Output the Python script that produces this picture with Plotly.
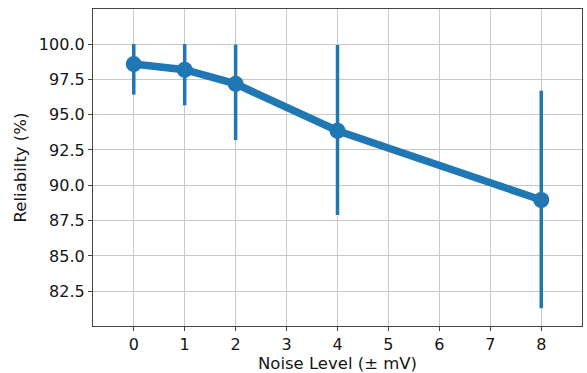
import plotly.graph_objects as go

noise_levels = [0, 1, 2, 4, 8]
reliability = [98.58, 98.18, 97.18, 93.86, 88.96]
ci_upper = [100.0, 100.0, 99.95, 99.93, 96.7]
ci_lower = [96.42, 95.66, 93.2, 87.9, 81.3]

x_ticks = [0, 1, 2, 3, 4, 5, 6, 7, 8]
y_ticks = [82.5, 85.0, 87.5, 90.0, 92.5, 95.0, 97.5, 100.0]

color = "#1f77b4"
err_plus = [u - v for u, v in zip(ci_upper, reliability)]
err_minus = [v - l for v, l in zip(reliability, ci_lower)]

fig = go.Figure()
fig.add_trace(go.Scatter(
    x=noise_levels, y=reliability, mode="lines+markers",
    line=dict(color=color, width=7.5),
    marker=dict(color=color, size=16),
    error_y=dict(type="data", symmetric=False, array=err_plus, arrayminus=err_minus,
                 color=color, thickness=3.5, width=0),
    showlegend=False,
))

axis_common = dict(
    showline=True, mirror=True, linecolor="#444444", linewidth=1.3,
    showgrid=True, gridcolor="#c8c8c8", gridwidth=1,
    ticks="outside", ticklen=4, tickcolor="#444444", tickwidth=1,
    zeroline=False, automargin=False,
    tickfont=dict(family="DejaVu Sans", size=16, color="#151515"),
)

fig.update_layout(
    width=587, height=373,
    margin=dict(l=93, r=5, t=9, b=47),
    paper_bgcolor="white", plot_bgcolor="white",
    font=dict(family="DejaVu Sans", size=16, color="#151515"),
    xaxis=dict(range=[-0.8, 8.8], tickvals=x_ticks,
               title=dict(text="Noise Level (± mV)", standoff=2, font=dict(size=16.5)),
               **axis_common),
    yaxis=dict(range=[80.04, 102.48], tickvals=y_ticks, tickformat=".1f",
               title=dict(text="Reliabilty (%)", standoff=8, font=dict(size=16.5)),
               **axis_common),
)

fig.write_html(
    "out.html",
    config={"displayModeBar": False},
    post_script="document.body.style.margin='0';document.body.style.overflow='hidden';",
)
